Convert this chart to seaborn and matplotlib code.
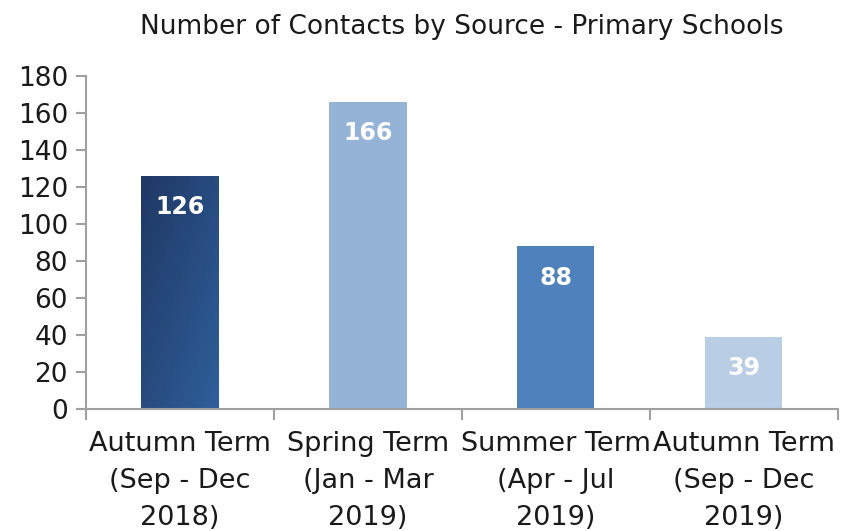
import numpy as np
import pandas as pd
import matplotlib
matplotlib.use("Agg")
import matplotlib.pyplot as plt
import seaborn as sns

# data
terms = ["Autumn Term\n(Sep - Dec\n2018)", "Spring Term\n(Jan - Mar\n2019)",
         "Summer Term\n(Apr - Jul\n2019)", "Autumn Term\n(Sep - Dec\n2019)"]
contacts = [126, 166, 88, 39]
bar_colors = ["#2a5288", "#95b3d7", "#4f81bd", "#b9cde5"]

df = pd.DataFrame({"Term": terms, "Contacts": contacts})

sns.set_style("white")
plt.rcParams["font.family"] = ["DejaVu Sans"]

fig = plt.figure(figsize=(8.43, 5.31), dpi=100)
ax = fig.add_axes([0.102, 0.23, 0.892, 0.627])

sns.barplot(data=df, x="Term", y="Contacts", hue="Term", palette=bar_colors,
            width=0.41, legend=False, ax=ax, saturation=1, linewidth=0)

# gradient on the first bar (dark navy top-left -> mid blue bottom-right)
first = ax.patches[0]
x0, y0 = first.get_x(), first.get_y()
w, h = first.get_width(), first.get_height()
gx, gy = np.meshgrid(np.linspace(0, 1, 50), np.linspace(0, 1, 200))
t = 0.5 * gx + 0.5 * gy
c0 = np.array(matplotlib.colors.to_rgb("#1f3864"))
c1 = np.array(matplotlib.colors.to_rgb("#2f5f9a"))
img = c0 + (c1 - c0) * t[..., None]
im = ax.imshow(img, extent=[x0, x0 + w, y0, y0 + h], origin="upper",
               aspect="auto", zorder=first.get_zorder() + 0.1)
im.set_clip_path(first)

# value labels inside the top of each bar
for i, v in enumerate(contacts):
    ax.text(i, v - 17, str(v), ha="center", va="center", color="white",
            fontsize=17, fontweight="bold", zorder=5)

ax.set_xlim(-0.5, 3.5)
ax.set_ylim(0, 180)
ax.set_yticks(range(0, 181, 20))
ax.set_xlabel("")
ax.set_ylabel("")
ax.set_title("Number of Contacts by Source - Primary Schools", fontsize=19,
             color="#1a1a1a", pad=30)

for side in ["top", "right"]:
    ax.spines[side].set_visible(False)
for side in ["left", "bottom"]:
    ax.spines[side].set_color("#a0a0a0")
    ax.spines[side].set_linewidth(1.5)

ax.tick_params(axis="y", labelsize=19, length=7, width=1.5, color="#a0a0a0",
               left=True, labelcolor="#1a1a1a", pad=6)
ax.tick_params(axis="x", which="major", labelsize=19.5, length=0, pad=16,
               labelcolor="#1a1a1a")
ax.set_xticks([-0.5, 0.5, 1.5, 2.5, 3.5], minor=True)
ax.tick_params(axis="x", which="minor", length=8, width=1.5, color="#a0a0a0",
               bottom=True, direction="out")
for lbl in ax.get_xticklabels():
    lbl.set_linespacing(1.55)

fig.savefig("out.png", dpi=100)
